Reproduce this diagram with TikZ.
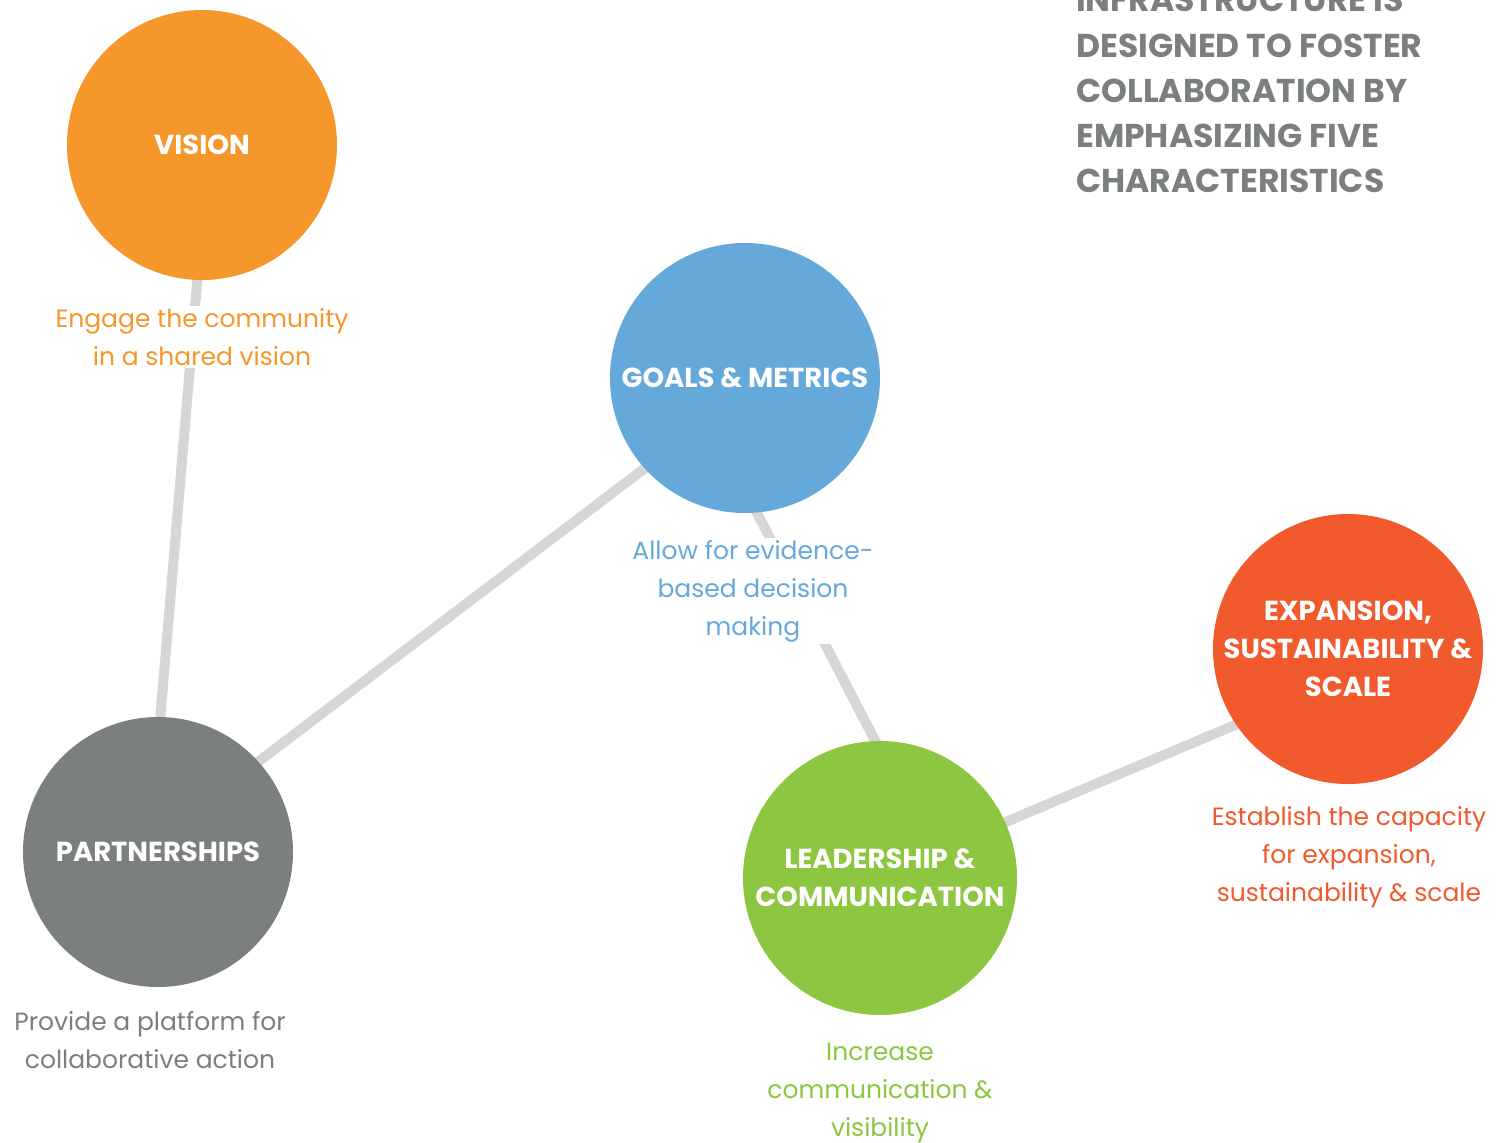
\documentclass[tikz,border=0pt]{standalone}
\usepackage{fontspec}
\setmainfont{Poppins}
\usetikzlibrary{backgrounds}
\definecolor{visionc}{HTML}{F5972A}
\definecolor{goalsc}{HTML}{65A9DB}
\definecolor{partc}{HTML}{7B807E}
\definecolor{leadc}{HTML}{8DC641}
\definecolor{expc}{HTML}{F05A2D}
\definecolor{linec}{HTML}{D6D6D6}
\tikzset{
 circ/.style={circle, minimum size=270pt, inner sep=0pt, text=white, align=center,
   font=\bfseries\fontsize{27.5}{38}\selectfont},
 conn/.style={line width=10pt, draw=linec, shorten <=-15pt, shorten >=-15pt},
 lbl/.style={fill=white, inner sep=2pt, align=center, font=\fontsize{25}{38}\selectfont},
 ttl/.style={anchor=base west, inner sep=0pt, text=partc, font=\bfseries\fontsize{33}{45}\selectfont}
}
\begin{document}
\begin{tikzpicture}[x=1pt,y=-1pt]
\useasboundingbox (0,0) rectangle (1505,1143);
\clip (0,0) rectangle (1505,1143);
\node[circ, fill=visionc] (vision) at (202,145) {\raisebox{-2pt}{VISION}};
\node[circ, fill=goalsc] (goals) at (745,378) {\raisebox{-2pt}{GOALS \& METRICS}};
\node[circ, fill=partc] (part) at (158,852) {\raisebox{-2pt}{PARTNERSHIPS}};
\node[circ, fill=leadc, minimum size=274pt] (lead) at (880,878) {\raisebox{-2pt}{LEADERSHIP \&}\\\raisebox{-2pt}{COMMUNICATION}};
\node[circ, fill=expc] (exp) at (1348,649) {EXPANSION,\\SUSTAINABILITY \&\\SCALE};
\begin{scope}[on background layer]
\fill[white] (0,0) rectangle (1505,1143);
\draw[conn] (vision.-92) -- (part.89);
\draw[conn] (goals.-138) -- (part.42);
\draw[conn] (goals.-85) -- (lead.92);
\draw[conn] (lead.24) -- (exp.-146);
\end{scope}
\node[lbl, text=visionc] (visionlbl) at (202,337) {Engage the community\\in a shared vision};
\node[lbl, text=goalsc] (goalslbl) at (753,591) {Allow for evidence-\\based decision\\making};
\node[lbl, text=partc] (partlbl) at (150,1040) {Provide a platform for\\collaborative action};
\node[lbl, text=leadc] (leadlbl) at (880,1093) {Increase\\communication \&\\visibility};
\node[lbl, text=expc] (explbl) at (1349,857) {Establish the capacity\\for expansion,\\sustainability \& scale};
\node[ttl] (t1) at (1076,12) {INFRASTRUCTURE IS};
\node[ttl] (t2) at (1076,57) {DESIGNED TO FOSTER};
\node[ttl] (t3) at (1076,102) {COLLABORATION BY};
\node[ttl] (t4) at (1076,147) {EMPHASIZING FIVE};
\node[ttl] (t5) at (1076,192) {CHARACTERISTICS};
\end{tikzpicture}
\end{document}
